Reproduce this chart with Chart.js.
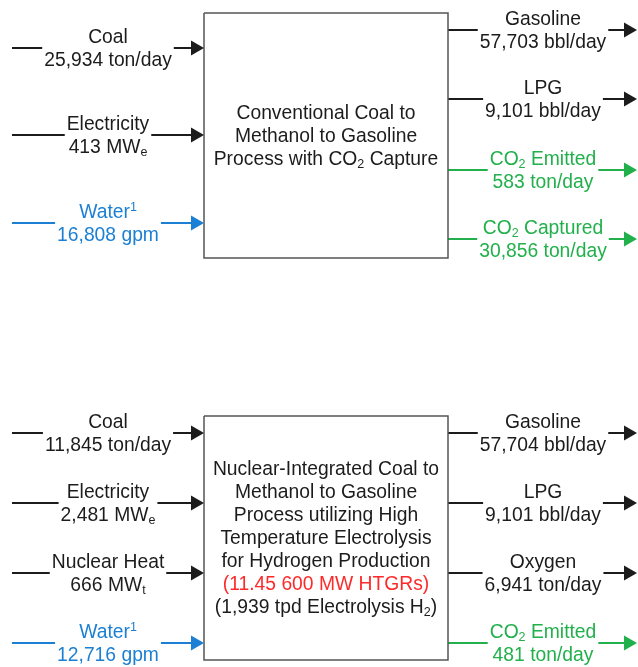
<!DOCTYPE html>
<html>
<head>
<meta charset="utf-8">
<script src="https://cdn.jsdelivr.net/npm/chart.js@4"></script>
<style>
  html, body { margin: 0; padding: 0; background: #fff; }
  canvas { display: block; }
</style>
</head>
<body>
<canvas id="myChart" width="638" height="667"></canvas>
<script>
// "_x" = subscript x, "^x" = superscript x
// conventional process
const convInNames = ["Coal", "Electricity", "Water^1"];
const convInValues = ["25,934 ton/day", "413 MW_e", "16,808 gpm"];
const convOutNames = ["Gasoline", "LPG", "CO_2 Emitted", "CO_2 Captured"];
const convOutValues = ["57,703 bbl/day", "9,101 bbl/day", "583 ton/day", "30,856 ton/day"];
const convBoxText = ["Conventional Coal to", "Methanol to Gasoline", "Process with CO_2 Capture"];

// nuclear-integrated process
const nucInNames = ["Coal", "Electricity", "Nuclear Heat", "Water^1"];
const nucInValues = ["11,845 ton/day", "2,481 MW_e", "666 MW_t", "12,716 gpm"];
const nucOutNames = ["Gasoline", "LPG", "Oxygen", "CO_2 Emitted"];
const nucOutValues = ["57,704 bbl/day", "9,101 bbl/day", "6,941 ton/day", "481 ton/day"];
const nucBoxText = [
  "Nuclear-Integrated Coal to",
  "Methanol to Gasoline",
  "Process utilizing High",
  "Temperature Electrolysis",
  "for Hydrogen Production",
  "(11.45 600 MW HTGRs)",
  "(1,939 tpd Electrolysis H_2)"
];
const nucHighlightLine = 5;

// layout (canvas units)
const W = 638, H = 667;
const boxL = 204, boxR = 448;
const inStart = 12, outEnd = 637, headLen = 13, headHalf = 7.5;
const inLabelX = 108, outLabelX = 543;
const convBox = [13, 258], nucBox = [416, 660];
const convInY = [48, 135, 223];
const convOutY = [30, 99, 170, 239];
const nucInY = [433, 503, 573, 643];
const nucOutY = [433, 503, 573, 643];
const convTextY = 112, nucTextY = 468, lineGap = 23;

const FONT = "'Liberation Sans', Arial, sans-serif";
const fs = 19.3, fsSmall = 12.5;
const textColor = "#1c1c1c";

function flowColor(name) {
  if (name.startsWith("Water")) return "#1b7fd3";
  if (name.startsWith("CO_2")) return "#21b04b";
  return textColor;
}

function parseRich(s) {
  const segs = [];
  let i = 0, buf = "";
  while (i < s.length) {
    const c = s[i];
    if ((c === "_" || c === "^") && i + 1 < s.length) {
      if (buf) segs.push({ t: buf, m: 0 });
      buf = "";
      segs.push({ t: s[i + 1], m: c === "_" ? 1 : -1 });
      i += 2;
    } else { buf += c; i++; }
  }
  if (buf) segs.push({ t: buf, m: 0 });
  return segs;
}

function richWidth(ctx, s) {
  let w = 0;
  parseRich(s).forEach(g => {
    ctx.font = (g.m ? fsSmall : fs) + "px " + FONT;
    w += ctx.measureText(g.t).width;
  });
  return w;
}

function drawRich(ctx, s, cx, cy, color) {
  const w = richWidth(ctx, s);
  let x = cx - w / 2;
  ctx.fillStyle = color;
  ctx.textBaseline = "alphabetic";
  ctx.textAlign = "left";
  const base = cy + fs * 0.36;
  parseRich(s).forEach(g => {
    ctx.font = (g.m ? fsSmall : fs) + "px " + FONT;
    const off = g.m === 1 ? 3.5 : g.m === -1 ? -7 : 0;
    ctx.fillText(g.t, x, base + off);
    x += ctx.measureText(g.t).width;
  });
}

// flows: {name, value, y, dir}
const flows = [];
convInNames.forEach((n, i) => flows.push({ name: n, value: convInValues[i], y: convInY[i], dir: "in" }));
convOutNames.forEach((n, i) => flows.push({ name: n, value: convOutValues[i], y: convOutY[i], dir: "out" }));
nucInNames.forEach((n, i) => flows.push({ name: n, value: nucInValues[i], y: nucInY[i], dir: "in" }));
nucOutNames.forEach((n, i) => flows.push({ name: n, value: nucOutValues[i], y: nucOutY[i], dir: "out" }));

function boxData(b) {
  return [
    { x: boxL, y: b[0] }, { x: boxR, y: b[0] }, { x: boxR, y: b[1] },
    { x: boxL, y: b[1] }, { x: boxL, y: b[0] }
  ];
}

const datasets = [
  { data: boxData(convBox), borderColor: "#555", borderWidth: 1.5 },
  { data: boxData(nucBox), borderColor: "#555", borderWidth: 1.5 }
];
flows.forEach(f => {
  const x0 = f.dir === "in" ? inStart : boxR;
  const x1 = f.dir === "in" ? boxL - headLen : outEnd - headLen;
  datasets.push({
    data: [{ x: x0, y: f.y }, { x: x1 + 1, y: f.y }],
    borderColor: flowColor(f.name),
    borderWidth: 2
  });
});
datasets.forEach(d => {
  d.showLine = true;
  d.pointRadius = 0;
  d.tension = 0;
  d.clip = false;
});

const labelsPlugin = {
  id: "flowLabels",
  afterDatasetsDraw(chart) {
    const ctx = chart.ctx;
    const sx = chart.scales.x, sy = chart.scales.y;
    ctx.save();
    flows.forEach(f => {
      const col = flowColor(f.name);
      const lx = sx.getPixelForValue(f.dir === "in" ? inLabelX : outLabelX);
      const py = sy.getPixelForValue(f.y);
      const w = Math.max(richWidth(ctx, f.name), richWidth(ctx, f.value));
      ctx.fillStyle = "#fff";
      ctx.fillRect(lx - w / 2 - 2, py - 3, w + 4, 6);
      drawRich(ctx, f.name, lx, py - 12, col);
      drawRich(ctx, f.value, lx, py + 11, col);
      // arrowhead
      const tip = sx.getPixelForValue(f.dir === "in" ? boxL : outEnd);
      ctx.fillStyle = col;
      ctx.beginPath();
      ctx.moveTo(tip, py);
      ctx.lineTo(tip - headLen, py - headHalf);
      ctx.lineTo(tip - headLen, py + headHalf);
      ctx.closePath();
      ctx.fill();
    });
    const cx = sx.getPixelForValue((boxL + boxR) / 2);
    convBoxText.forEach((t, i) => {
      drawRich(ctx, t, cx, sy.getPixelForValue(convTextY + i * lineGap), textColor);
    });
    nucBoxText.forEach((t, i) => {
      drawRich(ctx, t, cx, sy.getPixelForValue(nucTextY + i * lineGap),
        i === nucHighlightLine ? "#fe2a2a" : textColor);
    });
    ctx.restore();
  }
};

const config = {
  type: "scatter",
  data: { datasets: datasets },
  options: {
    responsive: false,
    animation: false,
    layout: { padding: 0 },
    plugins: { legend: { display: false }, tooltip: { enabled: false } },
    scales: {
      x: { type: "linear", min: 0, max: W, display: false },
      y: { type: "linear", min: 0, max: H, reverse: true, display: false }
    }
  },
  plugins: [labelsPlugin]
};
var myChart = new Chart(document.getElementById("myChart"), config);
</script>
</body>
</html>
